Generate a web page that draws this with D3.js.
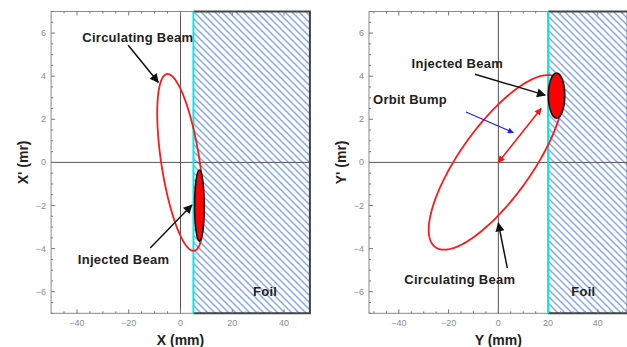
<!DOCTYPE html>
<html>
<head>
<meta charset="utf-8">
<script src="https://cdn.jsdelivr.net/npm/d3@7"></script>
<style>
  body { margin: 0; background: #fff; }
  text { font-family: "Liberation Sans", Arial, sans-serif; }
</style>
</head>
<body>
<div id="chart"></div>
<script>

//********************* DATA ************************************

var xTicks = [-40, -20, 0, 20, 40];
var yTicks = [-6, -4, -2, 0, 2, 4, 6];
var xDomainLeft = [-50, 50];
var xDomainRight = [-52, 52];
var yDomain = [-7, 7];

// foil edge position (mm)
var foilEdge = [5, 20];

// circulating beam ellipse: [centre x, centre x', max x, max x', phase]
var circulatingLeft = [0, 0, 9, 4.1, 2.16];
var circulatingRight = [-1, 0, 27, 4.05, 0.69];

// injected beam: [centre, centre', half width, half height]
var injectedLeft = [7.3, -2.0, 1.85, 1.65];
var injectedRight = [23.4, 3.1, 3.3, 1.05];

var labelsLeft = [
  {text: "Circulating Beam", x: -16.5, y: 5.8},
  {text: "Injected Beam", x: -22, y: -4.5},
  {text: "Foil", x: 32.7, y: -6.0}
];
var labelsRight = [
  {text: "Injected Beam", x: -16.5, y: 4.6},
  {text: "Orbit Bump", x: -35.5, y: 2.9},
  {text: "Circulating Beam", x: -15.5, y: -5.45},
  {text: "Foil", x: 34.2, y: -6.0}
];

// black pointer arrows [x1, y1, x2, y2]
var arrowsLeft = [[-20.2, 5.43, -8.6, 3.72], [-11.7, -3.97, 4.4, -1.98]];
var arrowsRight = [[-9.4, 4.09, 18.8, 3.12], [3.6, -4.9, 0, -2.82]];

var bumpArrow = [-13, 2.34, 6.0, 1.38];
var bumpDisplacement = [0, 0, 17.2, 2.5];

//********************* DIMENSIONS ************************************

var W = 627, H = 347;

var svg = d3.select("#chart").append("svg")
    .attr("width", W)
    .attr("height", H);

var defs = svg.append("defs");

defs.append("pattern")
    .attr("id", "hatch")
    .attr("patternUnits", "userSpaceOnUse")
    .attr("width", 7)
    .attr("height", 7)
  .append("path")
    .attr("d", "M-1,-1 L8,8 M-1,6 L1,8 M6,-1 L8,1")
    .attr("stroke", "#86aaee")
    .attr("stroke-width", 1.5);

function addMarker(id, color, w, h) {
  defs.append("marker")
      .attr("id", id)
      .attr("viewBox", "0 0 10 10")
      .attr("refX", 9)
      .attr("refY", 5)
      .attr("markerUnits", "userSpaceOnUse")
      .attr("markerWidth", w)
      .attr("markerHeight", h)
      .attr("orient", "auto-start-reverse")
    .append("path")
      .attr("d", "M0,0 L10,5 L0,10 Z")
      .attr("fill", color);
}
addMarker("headBlack", "#111", 13, 9);
addMarker("headRed", "#ff1010", 8, 7);
addMarker("headBlue", "#2020ff", 8, 6);

//********************* PANEL ************************************

function drawPanel(opt) {
  var x = d3.scaleLinear().domain(opt.xDomain).range(opt.xRange);
  var y = d3.scaleLinear().domain(yDomain).range([313.3, 11.5]);
  var g = svg.append("g");
  var x0 = opt.xRange[0], x1 = opt.xRange[1];

  // foil hatch
  g.append("rect")
      .attr("x", x(opt.foil))
      .attr("y", y(7))
      .attr("width", x(opt.xDomain[1]) - x(opt.foil))
      .attr("height", y(-7) - y(7))
      .attr("fill", "url(#hatch)");

  // frame
  g.append("rect")
      .attr("x", x0)
      .attr("y", y(7))
      .attr("width", x1 - x0)
      .attr("height", y(-7) - y(7))
      .attr("fill", "none")
      .attr("stroke", "#8a8a8a")
      .attr("stroke-width", 1);

  // dark border round the foil
  g.append("path")
      .attr("d", "M" + x(opt.foil) + "," + y(7) + "H" + x1 + "V" + y(-7) + "H" + x(opt.foil))
      .attr("fill", "none")
      .attr("stroke", "#444")
      .attr("stroke-width", 2);

  // zero lines
  g.append("line")
      .attr("x1", x(0)).attr("x2", x(0))
      .attr("y1", y(7)).attr("y2", y(-7))
      .attr("stroke", "#555").attr("stroke-width", 1);
  g.append("line")
      .attr("x1", x0).attr("x2", x1)
      .attr("y1", y(0)).attr("y2", y(0))
      .attr("stroke", "#555").attr("stroke-width", 1);

  // ticks (inside the frame)
  var xMinor = d3.range(-50, 51, 5);
  var yMinor = d3.range(-7, 7.01, 0.5);
  var tg = g.append("g").attr("stroke", "#777").attr("stroke-width", 1);
  xMinor.forEach(function(v) {
    if (x(v) <= x0 || x(v) >= x1) return;
    var len = v % 20 === 0 ? 4 : 2;
    tg.append("line").attr("x1", x(v)).attr("x2", x(v)).attr("y1", y(-7)).attr("y2", y(-7) - len);
    tg.append("line").attr("x1", x(v)).attr("x2", x(v)).attr("y1", y(7)).attr("y2", y(7) + len);
  });
  yMinor.forEach(function(v) {
    var len = v % 2 === 0 ? 4 : 2;
    tg.append("line").attr("x1", x0).attr("x2", x0 + len).attr("y1", y(v)).attr("y2", y(v));
  });

  // tick labels
  g.selectAll(".xt").data(xTicks).enter().append("text")
      .attr("x", function(d) { return x(d); })
      .attr("y", 326)
      .attr("text-anchor", "middle")
      .attr("font-size", 9)
      .attr("fill", "#8c8c8c")
      .text(function(d) { return d < 0 ? "\u2212" + Math.abs(d) : d; });
  g.selectAll(".yt").data(yTicks).enter().append("text")
      .attr("x", x0 - 5)
      .attr("y", function(d) { return y(d) + 3; })
      .attr("text-anchor", "end")
      .attr("font-size", 9)
      .attr("fill", "#8c8c8c")
      .text(function(d) { return d < 0 ? "\u2212" + Math.abs(d) : d; });

  // axis titles
  g.append("text")
      .attr("x", x(0))
      .attr("y", 345)
      .attr("text-anchor", "middle")
      .attr("font-size", 14)
      .attr("font-weight", "bold")
      .attr("fill", "#222")
      .text(opt.xTitle);
  g.append("text")
      .attr("transform", "translate(" + (x0 - 23) + "," + y(0) + ") rotate(-90)")
      .attr("text-anchor", "middle")
      .attr("font-size", 14)
      .attr("font-weight", "bold")
      .attr("fill", "#222")
      .text(opt.yTitle);

  // foil edge
  g.append("line")
      .attr("x1", x(opt.foil)).attr("x2", x(opt.foil))
      .attr("y1", y(7)).attr("y2", y(-7))
      .attr("stroke", "#00e8f0").attr("stroke-width", 2);

  // circulating beam
  var c = opt.circ;
  var ts = d3.range(0, 2 * Math.PI, Math.PI / 90);
  var ring = d3.line()
      .x(function(t) { return x(c[0] + c[2] * Math.cos(t + c[4])); })
      .y(function(t) { return y(c[1] + c[3] * Math.cos(t)); })
      .curve(d3.curveLinearClosed);
  g.append("path")
      .datum(ts)
      .attr("d", ring)
      .attr("fill", "none")
      .attr("stroke", "#ff1a1a")
      .attr("stroke-width", 1.8);

  // injected beam
  var inj = opt.inj;
  g.append("ellipse")
      .attr("cx", x(inj[0]))
      .attr("cy", y(inj[1]))
      .attr("rx", x(inj[0] + inj[2]) - x(inj[0]))
      .attr("ry", y(inj[1]) - y(inj[1] + inj[3]))
      .attr("fill", "#ff0000")
      .attr("stroke", "#111")
      .attr("stroke-width", 1.6);

  // extra arrows
  if (opt.extra) opt.extra(g, x, y);

  // pointer arrows
  g.selectAll(".arr").data(opt.arrows).enter().append("line")
      .attr("x1", function(d) { return x(d[0]); })
      .attr("y1", function(d) { return y(d[1]); })
      .attr("x2", function(d) { return x(d[2]); })
      .attr("y2", function(d) { return y(d[3]); })
      .attr("stroke", "#111")
      .attr("stroke-width", 1.5)
      .attr("marker-end", "url(#headBlack)");

  // annotation labels
  g.selectAll(".lab").data(opt.labels).enter().append("text")
      .attr("x", function(d) { return x(d.x); })
      .attr("y", function(d) { return y(d.y) + 4.5; })
      .attr("text-anchor", "middle")
      .attr("font-size", 13)
      .attr("letter-spacing", 0.25)
      .attr("font-weight", "bold")
      .attr("fill", "#222")
      .text(function(d) { return d.text; });
}

drawPanel({
  xDomain: xDomainLeft,
  xRange: [51.1, 309.9],
  foil: foilEdge[0],
  circ: circulatingLeft,
  inj: injectedLeft,
  arrows: arrowsLeft,
  labels: labelsLeft,
  xTitle: "X (mm)",
  yTitle: "X' (mr)"
});

drawPanel({
  xDomain: xDomainRight,
  xRange: [369, 627.7],
  foil: foilEdge[1],
  circ: circulatingRight,
  inj: injectedRight,
  arrows: arrowsRight,
  labels: labelsRight,
  xTitle: "Y (mm)",
  yTitle: "Y' (mr)",
  extra: function(g, x, y) {
    g.append("line")
        .attr("x1", x(bumpDisplacement[0])).attr("y1", y(bumpDisplacement[1]))
        .attr("x2", x(bumpDisplacement[2])).attr("y2", y(bumpDisplacement[3]))
        .attr("stroke", "#ff1010")
        .attr("stroke-width", 1.5)
        .attr("marker-start", "url(#headRed)")
        .attr("marker-end", "url(#headRed)");
    g.append("line")
        .attr("x1", x(bumpArrow[0])).attr("y1", y(bumpArrow[1]))
        .attr("x2", x(bumpArrow[2])).attr("y2", y(bumpArrow[3]))
        .attr("stroke", "#2020ff")
        .attr("stroke-width", 1.2)
        .attr("marker-end", "url(#headBlue)");
  }
});

</script>
</body>
</html>
